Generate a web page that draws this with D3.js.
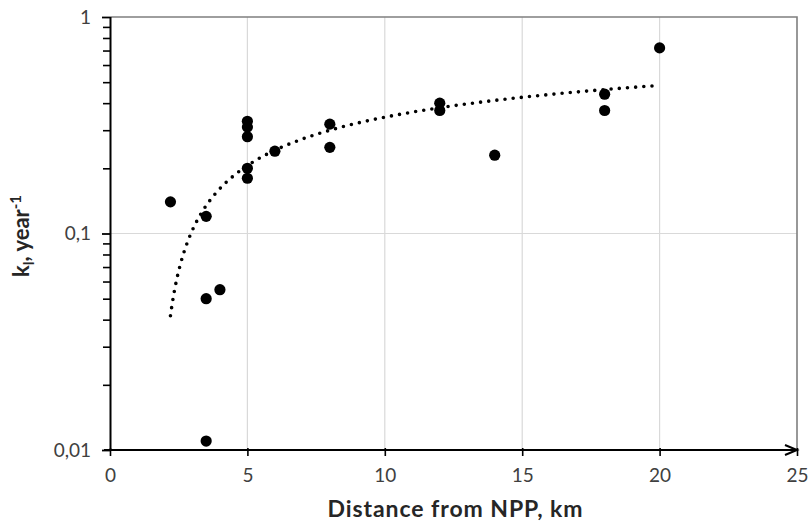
<!DOCTYPE html>
<html><head><meta charset="utf-8">
<script src="https://cdn.jsdelivr.net/npm/d3@7"></script>
<style>
html,body{margin:0;padding:0;background:#fff;}
svg{display:block;font-family:Lato,"Open Sans",sans-serif;}
</style></head>
<body>
<svg id="chart" width="811" height="521"></svg>
<script>
// Data
const distanceKm = [2.2, 3.5, 3.5, 4, 3.5, 5, 5, 5, 5, 5, 6, 8, 8, 12, 12, 14, 18, 18, 20];
const kValues    = [0.14, 0.12, 0.05, 0.055, 0.011, 0.33, 0.31, 0.28, 0.20, 0.18, 0.24, 0.32, 0.25, 0.40, 0.37, 0.23, 0.44, 0.37, 0.72];
// Logarithmic trendline (k = a*ln(x) + b)
const trendA = 0.2;
const trendB = -0.116;
const trendRange = [2.2, 20];
const xTicks = [0, 5, 10, 15, 20, 25];
const xTickLabels = ["0", "5", "10", "15", "20", "25"];
const yTicks = [0.01, 0.1, 1];
const yTickLabels = ["0,01", "0,1", "1"];
const xTitle = "Distance from NPP, km";

const svg = d3.select("#chart");
const L = 110, R = 797, T = 17, B = 450;
const x = d3.scaleLinear().domain([0, 25]).range([L, R]);
const y = d3.scaleLog().domain([0.01, 1]).range([B, T]);

// gridlines
svg.append("g").selectAll("line").data([5, 10, 15, 20]).join("line")
  .attr("x1", d => x(d)).attr("x2", d => x(d)).attr("y1", T).attr("y2", B)
  .attr("stroke", "#d9d9d9").attr("stroke-width", 1.2);
svg.append("line").attr("x1", L).attr("x2", R).attr("y1", y(0.1)).attr("y2", y(0.1))
  .attr("stroke", "#d9d9d9").attr("stroke-width", 1.2);

// frame top & right
svg.append("path").attr("d", `M${L},${T}H${R}V${B}`).attr("fill", "none")
  .attr("stroke", "#7f7f7f").attr("stroke-width", 1.6);

// minor y ticks
const minor = [];
[0.01, 0.1].forEach(dec => { for (let i = 2; i <= 9; i++) minor.push(dec * i); });
const yMinorAxis = d3.axisLeft(y).tickValues(minor).tickFormat("").tickSize(7).tickSizeOuter(0);
const gm = svg.append("g").attr("transform", `translate(${L},0)`).call(yMinorAxis);
gm.select(".domain").remove();
gm.selectAll("line").attr("stroke", "#000").attr("stroke-width", 1.6);

// major y axis
const yAxis = d3.axisLeft(y).tickValues(yTicks)
  .tickFormat((d, i) => yTickLabels[i]).tickSize(8).tickSizeOuter(0).tickPadding(11);
const gy = svg.append("g").attr("transform", `translate(${L},0)`).call(yAxis);
gy.select(".domain").attr("stroke", "#000").attr("stroke-width", 2).attr("d", `M0.5,${T}V${B}`);
gy.selectAll("line").attr("stroke", "#000").attr("stroke-width", 1.8);
gy.selectAll("text").attr("font-size", 19).attr("fill", "#404040").attr("font-family", "Lato, sans-serif");

// x axis
const xAxis = d3.axisBottom(x).tickValues(xTicks)
  .tickFormat((d, i) => xTickLabels[i]).tickSize(6).tickSizeOuter(0).tickPadding(13);
const gx = svg.append("g").attr("transform", `translate(0,${B})`).call(xAxis);
gx.select(".domain").remove();
gx.selectAll("line").attr("stroke", "#000").attr("stroke-width", 1.6).attr("y1", -2);
gx.selectAll("text").attr("font-size", 19).attr("fill", "#404040").attr("font-family", "Lato, sans-serif");
// axis line with arrow
svg.append("line").attr("x1", L - 6).attr("x2", R - 2).attr("y1", B).attr("y2", B)
  .attr("stroke", "#000").attr("stroke-width", 2);
svg.append("path")
  .attr("d", `M${R - 12},${B - 5}L${R},${B}L${R - 12},${B + 5}`)
  .attr("fill", "none").attr("stroke", "#000").attr("stroke-width", 2);

// trendline
const trendPts = d3.range(trendRange[0], trendRange[1] + 0.001, 0.05).map(v => [v, trendA * Math.log(v) + trendB]);
svg.append("path").datum(trendPts)
  .attr("d", d3.line().x(d => x(d[0])).y(d => y(d[1])))
  .attr("fill", "none").attr("stroke", "#000").attr("stroke-width", 3.6)
  .attr("stroke-linecap", "round").attr("stroke-dasharray", "0 8.2");

// points
svg.append("g").selectAll("circle").data(distanceKm.map((d, i) => [d, kValues[i]])).join("circle")
  .attr("cx", d => x(d[0])).attr("cy", d => y(d[1])).attr("r", 5.6).attr("fill", "#000");

// titles
svg.append("text").attr("x", 455).attr("y", 517).attr("text-anchor", "middle")
  .attr("font-size", 23).attr("font-weight", "bold").attr("fill", "#262626")
  .attr("textLength", 255).attr("lengthAdjust", "spacing").text(xTitle);
const yt = svg.append("text").attr("transform", "translate(29,236) rotate(-90)")
  .attr("text-anchor", "middle").attr("font-size", 22).attr("font-weight", "bold").attr("fill", "#262626");
yt.append("tspan").text("k");
yt.append("tspan").attr("font-size", 15).attr("dy", 5).text("l");
yt.append("tspan").attr("dy", -5).text(", year");
yt.append("tspan").attr("font-size", 15).attr("dy", -8).text("-1");
</script>
</body></html>
